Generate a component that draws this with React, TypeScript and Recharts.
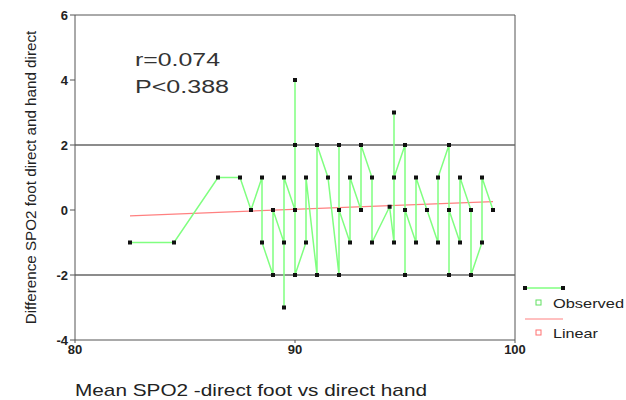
import React from "react";
import { ComposedChart, Line, XAxis, YAxis, ReferenceLine, Label } from "recharts";

// observed differences, in the order SPSS joined them
const obsX = [82.5, 84.5, 86.5, 87.5, 88, 88.5, 88.5, 89, 89, 89.5, 89.5, 89.5, 90, 90, 90, 90, 90.5, 90.5, 91, 91, 91.5, 92, 92, 92, 92.5, 92.5, 93, 93, 93.5, 93.5, 94.3, 94.5, 94.5, 94.5, 95, 95, 95, 95.5, 95.5, 96, 96.5, 96.5, 97, 97, 97, 97.5, 97.5, 98, 98, 98.5, 98.5, 99];
const obsY = [-1, -1, 1, 1, 0, 1, -1, -2, 0, -1, -3, 1, 0, 4, 2, -2, -1, 1, -2, 2, 1, -2, 2, 0, -1, 1, 0, 2, 1, -1, 0.1, -1, 3, 1, 2, -2, 0, -1, 1, 0, -1, 1, 2, -2, 0, -1, 1, 0, -2, -1, 1, 0];

// fitted linear line end points
const linX = [82.5, 99];
const linY = [-0.18, 0.26];

const xTicks = [80, 90, 100];
const yTicks = [-4, -2, 0, 2, 4, 6];

const observed = obsX.map((x, i) => ({ x, y: obsY[i] }));
const linear = linX.map((x, i) => ({ x, y: linY[i] }));

const FONT = "'Liberation Sans', Arial, sans-serif";

const SquareDot = (props: any) => {
	const { cx, cy, key } = props;
	if (cx == null || cy == null) return <g key={key} />;
	return <rect key={key} x={cx - 2} y={cy - 2} width={4} height={4} fill="#111" />;
};

const LegendBox = () => (
	<svg width={106} height={64} style={{ fontFamily: FONT, display: "block" }}>
		<line x1={5} y1={7} x2={43} y2={7} stroke="#80ff80" strokeWidth={1.5} />
		<rect x={3} y={5} width={4} height={4} fill="#111" />
		<rect x={41} y={5} width={4} height={4} fill="#111" />
		<rect x={16} y={19} width={5} height={5} fill="none" stroke="#60e060" />
		<text x={33} y={27} fontSize={13} fill="#222" textLength={71} lengthAdjust="spacingAndGlyphs">Observed</text>
		<line x1={5} y1={38} x2={43} y2={38} stroke="#ff8080" strokeWidth={1} />
		<rect x={16} y={49} width={5} height={5} fill="none" stroke="#ff7070" />
		<text x={33} y={57} fontSize={13} fill="#222" textLength={45} lengthAdjust="spacingAndGlyphs">Linear</text>
	</svg>
);

const App = () => {
	return (
		<div style={{ position: "absolute", left: 0, top: 0, width: 626, height: 400, background: "#fff" }}>
			<ComposedChart width={626} height={400} margin={{ top: 15, right: 111, bottom: 30, left: 30 }}>
				<XAxis
					type="number"
					dataKey="x"
					domain={[80, 100]}
					ticks={xTicks}
					height={30}
					stroke="#555"
					tickSize={3}
					tick={{ fill: "#222", fontSize: 13, fontFamily: FONT, fontWeight: "bold" }}
					allowDataOverflow
				>
					<Label
						content={() => (
							<text x={75} y={396} fontSize={17} fill="#222" fontFamily={FONT} textLength={352} lengthAdjust="spacingAndGlyphs">
								Mean SPO2 -direct foot vs direct hand
							</text>
						)}
					/>
				</XAxis>
				<YAxis
					type="number"
					domain={[-4, 6]}
					ticks={yTicks}
					width={45}
					stroke="#555"
					tickSize={5}
					tick={{ fill: "#222", fontSize: 13, fontFamily: FONT, fontWeight: "bold" }}
					allowDataOverflow
				>
					<Label
						value="Difference SPO2 foot direct and hand direct"
						angle={-90}
						position="left"
						offset={-1}
						style={{ fontSize: 15.2, fill: "#222", fontFamily: FONT, textAnchor: "middle" }}
					/>
				</YAxis>
				<ReferenceLine y={6} stroke="#555" />
				<ReferenceLine x={100} stroke="#555" />
				<ReferenceLine y={2} stroke="#666" strokeWidth={1.3} />
				<ReferenceLine y={-2} stroke="#666" strokeWidth={1.3} />
				<Line
					data={linear}
					dataKey="y"
					type="linear"
					stroke="#ff8080"
					strokeWidth={1.2}
					dot={false}
					isAnimationActive={false}
				/>
				<Line
					data={observed}
					dataKey="y"
					type="linear"
					stroke="#80ff80"
					strokeWidth={1.5}
					dot={SquareDot}
					activeDot={false}
					isAnimationActive={false}
				/>
			</ComposedChart>
			<div style={{ position: "absolute", left: 520, top: 281 }}>
				<LegendBox />
			</div>
			<svg width={140} height={60} style={{ position: "absolute", left: 130, top: 45 }}>
				<text x={5} y={21} fontSize={18} fill="#333" fontFamily={FONT} textLength={85} lengthAdjust="spacingAndGlyphs">r=0.074</text>
				<text x={5} y={48} fontSize={18} fill="#333" fontFamily={FONT} textLength={94} lengthAdjust="spacingAndGlyphs">P&lt;0.388</text>
			</svg>
		</div>
	);
};

export default App;
